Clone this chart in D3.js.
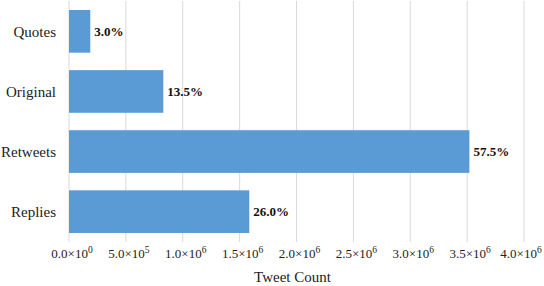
<!DOCTYPE html>
<html>
<head>
<meta charset="utf-8">
<script src="https://cdn.jsdelivr.net/npm/d3@7"></script>
<style>
  body { margin: 0; background: #fff; }
</style>
</head>
<body>
<div id="chart"></div>
<script>
// data
let categories = ["Quotes", "Original", "Retweets", "Replies"];
let counts = [187000, 829000, 3520000, 1585000];
let shares = ["3.0%", "13.5%", "57.5%", "26.0%"];
let tickValues = [0, 5e5, 1e6, 1.5e6, 2e6, 2.5e6, 3e6, 3.5e6, 4e6];
let tickMant = ["0.0", "5.0", "1.0", "1.5", "2.0", "2.5", "3.0", "3.5", "4.0"];
let tickExp = ["0", "5", "6", "6", "6", "6", "6", "6", "6"];

const W = 544, H = 286;
const plotLeft = 69, plotRight = 524, plotTop = 1, plotBottom = 242;
const serif = "'Liberation Serif', 'Times New Roman', serif";

var svg = d3.select("#chart").append("svg")
    .attr("width", W)
    .attr("height", H)
    .style("font-family", serif);

var x = d3.scaleLinear()
    .domain([0, 4e6])
    .range([plotLeft, plotRight]);

var y = d3.scaleBand()
    .domain(categories)
    .range([plotTop, plotBottom])
    .paddingInner(0.29)
    .paddingOuter(0.15);

// vertical grid
svg.append("g")
    .selectAll("line")
    .data(tickValues)
    .join("line")
    .attr("x1", d => x(d))
    .attr("x2", d => x(d))
    .attr("y1", plotTop)
    .attr("y2", plotBottom)
    .attr("stroke", "#d9d9d9")
    .attr("stroke-width", 1);

// bars
svg.append("g")
    .selectAll("rect")
    .data(categories)
    .join("rect")
    .attr("x", x(0))
    .attr("y", d => y(d))
    .attr("width", (d, i) => x(counts[i]) - x(0))
    .attr("height", y.bandwidth())
    .attr("fill", "#5b9bd5");

// bar labels
svg.append("g")
    .selectAll("text")
    .data(categories)
    .join("text")
    .attr("x", (d, i) => x(counts[i]) + 4)
    .attr("y", d => y(d) + y.bandwidth() / 2)
    .attr("dy", "0.35em")
    .attr("font-size", 13)
    .attr("font-weight", "bold")
    .attr("fill", "#111")
    .text((d, i) => shares[i]);

// category labels
svg.append("g")
    .selectAll("text")
    .data(categories)
    .join("text")
    .attr("x", 56)
    .attr("y", d => y(d) + y.bandwidth() / 2)
    .attr("dy", "0.35em")
    .attr("text-anchor", "end")
    .attr("font-size", 15)
    .attr("fill", "#222")
    .text(d => d);

// x tick labels with superscript exponent
let tl = svg.append("g")
    .selectAll("text")
    .data(tickValues)
    .join("text")
    .attr("x", (d, i) => x(d) + (i === tickValues.length - 1 ? -3 : 3))
    .attr("y", 258)
    .attr("text-anchor", "middle")
    .attr("font-size", 13)
    .attr("fill", "#222");
tl.append("tspan").text((d, i) => tickMant[i] + "\u00d710");
tl.append("tspan")
    .attr("dy", -5)
    .attr("font-size", 9.5)
    .text((d, i) => tickExp[i]);

// axis title
svg.append("text")
    .attr("x", (plotLeft + plotRight) / 2 - 4)
    .attr("y", 282)
    .attr("text-anchor", "middle")
    .attr("font-size", 15)
    .attr("fill", "#222")
    .text("Tweet Count");
</script>
</body>
</html>
